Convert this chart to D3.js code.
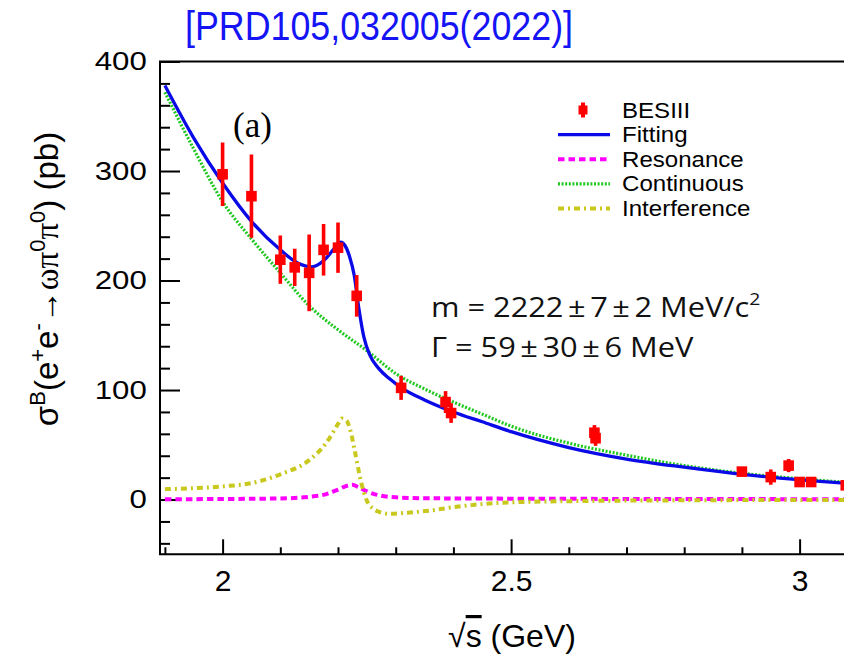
<!DOCTYPE html>
<html>
<head>
<meta charset="UTF-8" />
<script src="https://d3js.org/d3.v7.min.js"></script>
<style>
  body { margin: 0; background: #fff; }
</style>
</head>
<body>
<div id="chart"></div>
<script>
// BESIII points
const energies = [2.0, 2.05, 2.1, 2.125, 2.15, 2.175, 2.2, 2.2324, 2.3094, 2.3864, 2.396, 2.6444, 2.6464, 2.9, 2.95, 2.981, 3.0, 3.02, 3.08];
const sigma    = [297, 277, 219, 212, 207, 228, 230, 186, 102, 89, 79, 61, 56, 25.5, 20.5, 31, 16, 16, 13];
const sigmaErr = [29, 38, 22, 17, 35, 23.5, 23, 19, 11, 10, 9, 7, 7, 3, 7, 6, 3, 3, 3];

// curves (sampled by eye)
const fitE = [1.9, 1.95, 2.0, 2.05, 2.1, 2.13, 2.155, 2.175, 2.195, 2.205, 2.212, 2.22, 2.228, 2.236, 2.245, 2.255, 2.27, 2.29, 2.31, 2.35, 2.4, 2.45, 2.5, 2.6, 2.7, 2.8, 2.9, 3.0, 3.1];
const fitV = [378, 330, 289, 254, 228, 216, 212.5, 218, 230, 235, 232, 222, 205, 175, 148, 132, 120, 110, 102, 91, 80, 71, 62, 47.5, 37, 29.5, 23, 18, 14];

const contE = [1.9, 1.95, 2.0, 2.05, 2.1, 2.15, 2.2, 2.25, 2.3, 2.35, 2.4, 2.45, 2.5, 2.6, 2.7, 2.8, 2.9, 3.0, 3.1];
const contV = [372, 320, 272, 238, 207, 177, 155, 136, 115, 101, 89, 78, 67, 51.5, 40.5, 31, 24, 19, 15];

const resE = [1.9, 2.0, 2.1, 2.15, 2.18, 2.2, 2.215, 2.225, 2.235, 2.25, 2.27, 2.3, 2.35, 2.5, 2.8, 3.1];
const resV = [0.3, 0.5, 1, 2.5, 5, 9, 12.5, 13.5, 11.5, 7.5, 4, 2, 1.2, 0.8, 0.5, 0.3];

const intE = [1.9, 2.0, 2.05, 2.1, 2.15, 2.18, 2.19, 2.2, 2.207, 2.215, 2.222, 2.23, 2.24, 2.25, 2.26, 2.27, 2.29, 2.32, 2.36, 2.4, 2.48, 2.6, 2.8, 3.1];
const intV = [9.5, 12, 15, 23, 36, 52, 60, 69, 74, 72, 62, 42, 16, -1, -8, -11, -13, -12, -10, -7, -3, -1.5, -0.7, -0.3];

const yMajorTicks = [0, 100, 200, 300, 400];
const xMajorTicks = [2, 2.5, 3];
const xTickLabels = ["2", "2.5", "3"];
const legendLabels = ["BESIII", "Fitting", "Resonance", "Continuous", "Interference"];

const W = 844, H = 656;
const padL = 160, padT = 61.5, padB = 554.3;

const svg = d3.select("#chart").append("svg")
  .attr("width", W).attr("height", H)
  .attr("font-family", "Liberation Sans, Arial, sans-serif");

const x = d3.scaleLinear().domain([1.8915, 3.1]).range([padL, padL + (3.1 - 1.8915) * 577]);
const y = d3.scaleLinear().domain([-50, 400]).range([padB, padT]);

svg.append("clipPath").attr("id", "plot")
  .append("rect").attr("x", padL).attr("y", padT)
  .attr("width", x.range()[1] - padL).attr("height", padB - padT);

// axes, ticks pointing inward
const yMinor = d3.range(-40, 400, 20).filter(v => v % 100 !== 0);
svg.append("g").attr("transform", `translate(${padL},0)`)
  .call(d3.axisLeft(y).tickValues(yMinor).tickSize(-10).tickFormat(""))
  .call(g => g.select(".domain").remove())
  .call(g => g.selectAll("line").attr("stroke-width", 2));
svg.append("g").attr("transform", `translate(${padL},0)`)
  .call(d3.axisLeft(y).tickValues(yMajorTicks).tickSize(-20).tickPadding(11))
  .call(g => g.select(".domain").remove())
  .call(g => g.selectAll("line").attr("stroke-width", 2))
  .call(g => g.selectAll("text").attr("font-size", 26).attr("font-family", null)
    .attr("transform", "scale(1.2,1)"));

const xMinor = d3.range(1.9, 3.11, 0.1).filter(v => Math.abs(v - 2) > 1e-6 && Math.abs(v - 3) > 1e-6 && Math.abs(v - 2.5) > 1e-6);
svg.append("g").attr("transform", `translate(0,${padB})`)
  .call(d3.axisBottom(x).tickValues(xMinor).tickSize(-7).tickFormat(""))
  .call(g => g.select(".domain").remove())
  .call(g => g.selectAll("line").attr("stroke-width", 2));
svg.append("g").attr("transform", `translate(0,${padB})`)
  .call(d3.axisBottom(x).tickValues(xMajorTicks).tickSize(-15).tickPadding(15)
    .tickFormat((d, i) => xTickLabels[i]))
  .call(g => g.select(".domain").remove())
  .call(g => g.selectAll("line").attr("stroke-width", 2))
  .call(g => g.selectAll("text").attr("font-size", 30).attr("font-family", null));

// frame
svg.append("path")
  .attr("d", `M${x.range()[1] + 2},${padT}H${padL}V${padB}H${x.range()[1] + 2}`)
  .attr("fill", "none").attr("stroke", "#000").attr("stroke-width", 2);

// curves
const line = d3.line().x(d => x(d[0])).y(d => y(d[1])).curve(d3.curveMonotoneX);
const curves = [
  { e: resE, v: resV, color: "#ff00ff", w: 4, dash: "6.5,4" },
  { e: intE, v: intV, color: "#c8c81e", w: 4, dash: "6,4,2,4" },
  { e: contE, v: contV, color: "#1ec81e", w: 3.2, dash: "2,1.6" },
  { e: fitE, v: fitV, color: "#0a0ae6", w: 3.3, dash: null }
];
const gc = svg.append("g").attr("clip-path", "url(#plot)");
curves.forEach(c => {
  gc.append("path")
    .attr("d", line(d3.zip(c.e, c.v)))
    .attr("fill", "none")
    .attr("stroke", c.color)
    .attr("stroke-width", c.w)
    .attr("stroke-dasharray", c.dash);
});

// data points
const pts = gc.append("g").selectAll("g").data(d3.zip(energies, sigma, sigmaErr)).join("g");
pts.append("line")
  .attr("x1", d => x(d[0])).attr("x2", d => x(d[0]))
  .attr("y1", d => y(d[1] + d[2])).attr("y2", d => y(d[1] - d[2]))
  .attr("stroke", "#ff0000").attr("stroke-width", 3.6);
pts.append("rect")
  .attr("x", d => x(d[0]) - 5.3).attr("y", d => y(d[1]) - 5.3)
  .attr("width", 10.6).attr("height", 10.6)
  .attr("fill", "#ff0000");

// legend
const lg = svg.append("g");
const rowY = i => 110 + i * 24.6;
legendLabels.forEach((lab, i) => {
  lg.append("text").attr("transform", `translate(622,${rowY(i) + 7.5}) scale(1.12,1)`)
    .attr("font-size", 21.5).text(lab);
});
lg.append("line").attr("x1", 583).attr("x2", 583).attr("y1", rowY(0) - 7.5).attr("y2", rowY(0) + 7.5)
  .attr("stroke", "#ff0000").attr("stroke-width", 4);
lg.append("rect").attr("x", 578.5).attr("y", rowY(0) - 4.5).attr("width", 9).attr("height", 9).attr("fill", "#ff0000");
[curves[3], curves[0], curves[2], curves[1]].forEach((c, i) => {
  lg.append("line").attr("x1", 558).attr("x2", 610)
    .attr("y1", rowY(i + 1)).attr("y2", rowY(i + 1))
    .attr("stroke", c.color).attr("stroke-width", c.w)
    .attr("stroke-dasharray", c.dash);
});

// title
svg.append("text").attr("x", 185).attr("y", 40)
  .attr("font-size", 40).attr("fill", "#1414f5")
  .attr("textLength", 388).attr("lengthAdjust", "spacingAndGlyphs")
  .text("[PRD105,032005(2022)]");

// panel tag
svg.append("text").attr("x", 233).attr("y", 137)
  .attr("font-family", "Liberation Serif, Times New Roman, serif").attr("font-size", 35).text("(a)");

// fit result
const ann = svg.append("g").attr("font-family", "Open Sans").attr("font-size", 27).attr("fill", "#111");
const t1 = ann.append("text").attr("transform", "translate(431,317) scale(1.14,1)");
t1.append("tspan").text("m = 2222");
t1.append("tspan").attr("dx", 4).text("±");
t1.append("tspan").attr("dx", 4).text("7");
t1.append("tspan").attr("dx", 4).text("±");
t1.append("tspan").attr("dx", 4).text("2 MeV/c");
t1.append("tspan").attr("font-size", 17).attr("dy", -12).text("2");
const t2 = ann.append("text").attr("transform", "translate(431,357) scale(1.14,1)");
t2.append("tspan").text("Γ = 59");
t2.append("tspan").attr("dx", 4).text("±");
t2.append("tspan").attr("dx", 4).text("30");
t2.append("tspan").attr("dx", 4).text("±");
t2.append("tspan").attr("dx", 4).text("6 MeV");

// axis titles
const xl = svg.append("text").attr("x", 512).attr("y", 647).attr("text-anchor", "middle")
  .attr("font-size", 32);
xl.append("tspan").text("√");
xl.append("tspan").attr("text-decoration", "overline").text("s");
xl.append("tspan").text(" (GeV)");

const yl = svg.append("text").attr("transform", "translate(58,279) rotate(-90)")
  .attr("text-anchor", "middle").attr("font-size", 33);
yl.append("tspan").text("σ");
yl.append("tspan").attr("font-size", 22).attr("dy", -13).text("B");
yl.append("tspan").attr("dy", 13).text("(e");
yl.append("tspan").attr("font-size", 22).attr("dy", -13).text("+");
yl.append("tspan").attr("dy", 13).text("e");
yl.append("tspan").attr("font-size", 22).attr("dy", -13).text("-");
yl.append("tspan").attr("dy", 13).text("→");
yl.append("tspan").attr("font-family", "Liberation Serif, serif").text("ωπ");
yl.append("tspan").attr("font-size", 22).attr("dy", -13).text("0");
yl.append("tspan").attr("font-family", "Liberation Serif, serif").attr("dy", 13).text("π");
yl.append("tspan").attr("font-size", 22).attr("dy", -13).text("0");
yl.append("tspan").attr("dy", 13).text(") (pb)");
</script>
</body>
</html>
